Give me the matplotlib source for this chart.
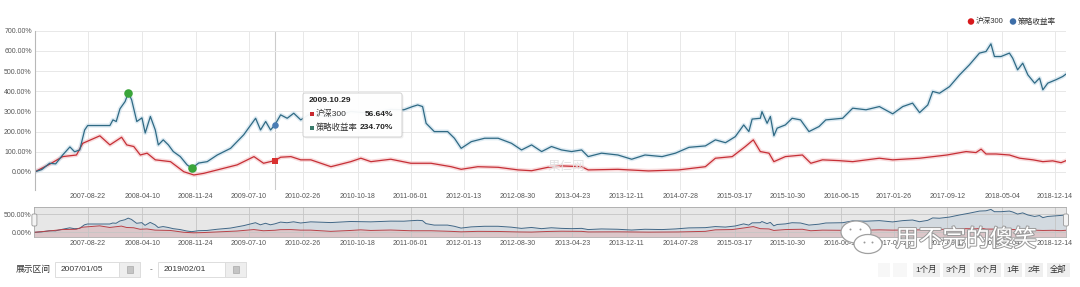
import matplotlib
matplotlib.use('Agg')
from matplotlib import pyplot as plt
from matplotlib import patches as patches
from matplotlib import patheffects as pe
import pandas as pd
import numpy as np

plt.rcParams['font.family'] = ['Liberation Sans', 'Noto Sans CJK SC']

# ---- data (cumulative return, %) ----
strategy_dates = [
    '2007-01-05', '2007-02-05', '2007-03-10', '2007-04-05', '2007-05-05', '2007-06-05',
    '2007-06-25', '2007-07-17', '2007-08-07', '2007-08-20', '2007-11-23', '2007-12-06',
    '2007-12-20', '2008-01-05', '2008-01-27', '2008-02-10', '2008-02-24', '2008-03-17',
    '2008-04-08', '2008-04-22', '2008-05-14', '2008-06-04', '2008-06-17', '2008-07-08',
    '2008-07-30', '2008-08-20', '2008-09-19', '2008-10-18', '2008-11-08', '2008-12-06',
    '2009-01-12', '2009-02-24', '2009-04-22', '2009-06-17', '2009-08-07', '2009-08-28',
    '2009-09-19', '2009-10-10', '2009-10-29', '2009-11-22', '2009-12-20', '2010-01-17',
    '2010-02-16', '2010-03-31', '2010-06-25', '2010-09-18', '2010-12-13', '2011-03-08',
    '2011-05-03', '2011-06-09', '2011-07-01', '2011-07-22', '2011-08-06', '2011-09-10',
    '2011-11-06', '2011-12-05', '2012-01-03', '2012-02-15', '2012-04-12', '2012-06-09',
    '2012-08-05', '2012-09-17', '2012-10-30', '2012-12-12', '2013-01-23', '2013-03-07',
    '2013-04-19', '2013-06-01', '2013-06-29', '2013-08-25', '2013-11-03', '2014-01-01',
    '2014-02-27', '2014-05-11', '2014-07-07', '2014-09-03', '2014-11-12', '2014-12-25',
    '2015-02-06', '2015-03-20', '2015-04-25', '2015-05-17', '2015-05-31', '2015-07-05',
    '2015-07-12', '2015-08-03', '2015-08-17', '2015-09-01', '2015-09-15', '2015-10-20',
    '2015-11-18', '2015-12-24', '2016-01-29', '2016-03-12', '2016-04-10', '2016-06-21',
    '2016-08-03', '2016-09-29', '2016-11-25', '2017-01-21', '2017-03-05', '2017-04-16',
    '2017-05-16', '2017-06-20', '2017-07-11', '2017-08-09', '2017-09-21', '2017-11-03',
    '2017-12-15', '2018-01-27', '2018-02-24', '2018-03-17', '2018-04-01', '2018-04-29',
    '2018-06-04', '2018-06-18', '2018-07-09', '2018-07-31', '2018-08-22', '2018-09-20',
    '2018-10-11', '2018-10-25', '2018-11-15', '2018-12-20', '2019-01-18', '2019-02-01']
strategy_vals = [
    0, 12, 43, 40, 84, 124,
    100, 109, 208, 230, 230, 258,
    250, 313, 349, 393, 357, 250,
    268, 193, 275, 208, 134, 159,
    134, 101, 76, 35, 18, 44,
    51, 84, 117, 184, 266, 208,
    250, 208, 234.70, 283, 266, 291,
    258, 290, 270, 300, 290, 310,
    308, 324, 332, 324, 241, 200,
    200, 167, 117, 150, 167, 167,
    142, 109, 134, 101, 126, 109,
    101, 109, 76, 93, 84, 63,
    84, 76, 93, 122, 129, 159,
    145, 175, 233, 200, 262, 266,
    299, 241, 275, 179, 217, 233,
    266, 258, 200, 225, 258, 266,
    316, 308, 324, 288, 324, 341,
    294, 332, 399, 390, 423, 481,
    531, 589, 597, 635, 572, 572,
    589, 564, 506, 539, 481, 440,
    465, 407, 440, 457, 473, 485]

hs300_dates = [
    '2007-01-05', '2007-03-10', '2007-05-05', '2007-07-03', '2007-07-30', '2007-10-11',
    '2007-11-23', '2008-01-12', '2008-02-03', '2008-03-04', '2008-04-01', '2008-04-30',
    '2008-06-04', '2008-08-08', '2008-10-04', '2008-11-16', '2008-12-28', '2009-02-24',
    '2009-05-20', '2009-07-31', '2009-09-10', '2009-10-29', '2009-11-22', '2010-01-05',
    '2010-02-16', '2010-03-31', '2010-06-25', '2010-09-18', '2010-10-31', '2010-12-13',
    '2011-03-08', '2011-06-02', '2011-08-27', '2011-11-21', '2012-01-03', '2012-03-14',
    '2012-06-09', '2012-09-03', '2012-10-30', '2013-01-08', '2013-03-07', '2013-06-01',
    '2013-06-29', '2013-11-03', '2014-03-14', '2014-07-20', '2014-11-12', '2014-12-25',
    '2015-03-07', '2015-05-02', '2015-06-05', '2015-07-05', '2015-08-11', '2015-09-01',
    '2015-10-20', '2016-01-01', '2016-02-06', '2016-03-27', '2016-06-06', '2016-08-03',
    '2016-11-25', '2017-01-21', '2017-05-16', '2017-09-10', '2017-12-01', '2018-01-12',
    '2018-02-03', '2018-02-24', '2018-04-08', '2018-06-04', '2018-07-18', '2018-09-13',
    '2018-10-25', '2018-12-06', '2019-01-11', '2019-02-01']
hs300_vals = [
    0, 38, 76, 84, 142, 179,
    134, 172, 134, 126, 84, 93,
    60, 51, 1, -15, -7, 10,
    35, 76, 43, 56.64, 73, 76,
    60, 60, 26, 51, 68, 51,
    63, 43, 43, 26, 13, 26,
    23, 10, 6, 23, 30, 26,
    10, 13, 5, 10, 26, 68,
    76, 126, 159, 101, 93, 51,
    76, 84, 43, 60, 56, 51,
    68, 60, 68, 84, 101, 96,
    113, 89, 89, 84, 68, 60,
    51, 55, 46, 56]

tick_labels = ['2007-08-22', '2008-04-10', '2008-11-24', '2009-07-10', '2010-02-26',
               '2010-10-18', '2011-06-01', '2012-01-13', '2012-08-30', '2013-04-23',
               '2013-12-11', '2014-07-28', '2015-03-17', '2015-10-30', '2016-06-15',
               '2017-01-26', '2017-09-12', '2018-05-04', '2018-12-14']
drawdown_dates = ['2008-02-10', '2008-11-08']
tooltip_date = '2009-10-29'
range_start, range_end = '2007/01/05', '2019/02/01'
buttons = ['', '', '1个月', '3个月', '6个月', '1年', '2年', '全部']

RED = '#c62f36'
BLUE = '#2f6a84'

s_dates = pd.to_datetime(strategy_dates)
h_dates = pd.to_datetime(hs300_dates)
ticks = pd.to_datetime(tick_labels)
x0 = pd.Timestamp(range_start.replace('/', '-'))
x1 = pd.Timestamp(range_end.replace('/', '-'))

W, H = 1080, 287


def box(l, t, r, b):
    return [l / W, 1 - b / H, (r - l) / W, (b - t) / H]


fig = plt.figure(figsize=(W / 100, H / 100), dpi=100)

# ---- main chart ----
ax = fig.add_axes(box(34.6, 30.7, 1066, 190.1))
ax.set_xlim(x0, x1)
ax.set_ylim(-90, 700)
ax.set_yticks(range(0, 701, 100))
ax.set_yticklabels(['%.2f%%' % v for v in range(0, 701, 100)])
ax.set_xticks(ticks)
ax.set_xticklabels(tick_labels)
ax.tick_params(length=0, labelsize=5, colors='#555555', pad=2)
ax.grid(True, color='#e8e8e8', lw=0.7)
for sp in ['top', 'right', 'bottom']:
    ax.spines[sp].set_visible(False)
ax.spines['left'].set_color('#b8b8b8')
ax.spines['left'].set_linewidth(0.8)

ax.plot(h_dates, hs300_vals, color='#f2b8bb', lw=3, alpha=0.5, solid_joinstyle='round')
ax.plot(s_dates, strategy_vals, color='#bcd6e6', lw=3, alpha=0.5, solid_joinstyle='round')
ax.plot(h_dates, hs300_vals, color=RED, lw=0.9)
ax.plot(s_dates, strategy_vals, color=BLUE, lw=0.9)

# max drawdown markers
s_series = pd.Series(strategy_vals, index=s_dates)
h_series = pd.Series(hs300_vals, index=h_dates)
dd = pd.to_datetime(drawdown_dates)
ax.scatter(dd, s_series[dd].values, s=38, color='#3aa53a', zorder=5, lw=0)

# tooltip crosshair and points
td = pd.Timestamp(tooltip_date)
ax.axvline(td, color='#cccccc', lw=0.8, zorder=1)
ax.scatter([td], [s_series[td]], s=22, color='#4a7db5', zorder=5, lw=0)
ax.scatter([td], [h_series[td]], s=20, marker='s', color='#d9302f', zorder=5, lw=0)

# ---- navigator ----
nav = fig.add_axes(box(34.4, 207.3, 1066, 237.3))
nav.set_xlim(x0, x1)
nav.set_ylim(-139, 694)
nav.set_yticks([0, 500])
nav.set_yticklabels(['0.00%', '500.00%'])
nav.set_xticks(ticks)
nav.set_xticklabels(tick_labels)
nav.tick_params(length=0, labelsize=5, colors='#555555', pad=2)
nav.grid(True, color='#d4d4d4', lw=0.6)
for sp in nav.spines.values():
    sp.set_color('#b0b0b0')
    sp.set_linewidth(0.6)
nav.fill_between(s_dates, strategy_vals, -139, color='#d6e3f1', alpha=0.6, lw=0)
nav.fill_between(h_dates, hs300_vals, -139, color='#f5d0d2', alpha=0.8, lw=0)
nav.plot(s_dates, strategy_vals, color='#2f5f86', lw=0.7)
nav.plot(h_dates, hs300_vals, color=RED, lw=0.7)
nav.add_patch(patches.Rectangle((0, 0), 1, 1, transform=nav.transAxes,
                                fc='#8a8a8a', alpha=0.2, ec='none', zorder=4))

# ---- overlay in pixel coordinates ----
ov = fig.add_axes([0, 0, 1, 1], zorder=10)
ov.set_xlim(0, W)
ov.set_ylim(H, 0)
ov.axis('off')
ov.patch.set_alpha(0)

# legend
ov.scatter([971, 1013], [21.5, 21.5], s=22, color=['#d7191c', '#3d6ea8'], lw=0)
ov.text(975.5, 21.8, '沪深300', fontsize=5.5, va='center', color='#333333')
ov.text(1017.5, 21.8, '策略收益率', fontsize=5.5, va='center', color='#333333')

# navigator handles
for hx in [34.4, 1066]:
    ov.add_patch(patches.FancyBboxPatch((hx - 2.5, 214), 5, 12,
                                        boxstyle='round,pad=0,rounding_size=1.5',
                                        fc='#f4f4f4', ec='#999999', lw=0.6))

# tooltip
ov.add_patch(patches.FancyBboxPatch((304.5, 94.5), 99, 44, boxstyle='round,pad=0,rounding_size=2',
                                    fc='#000000', alpha=0.06, ec='none'))
ov.add_patch(patches.FancyBboxPatch((303, 93), 99, 44, boxstyle='round,pad=0,rounding_size=2',
                                    fc='white', alpha=0.95, ec='#cfcfcf', lw=0.7))
ov.text(309, 101, td.strftime('%Y.%m.%d'), fontsize=6, fontweight='bold',
        va='center', color='#222222')
rows = [('沪深300', h_series[td], '#c8282e'), ('策略收益率', s_series[td], '#3a7c6c')]
for i, (name, val, c) in enumerate(rows):
    yy = 114 + i * 13.5
    ov.scatter([311.5], [yy], s=9, marker='s', color=c, lw=0)
    ov.text(316, yy, name, fontsize=6, va='center', color='#333333')
    ov.text(393, yy, '%.2f%%' % val, fontsize=6, va='center', ha='right',
            fontweight='bold', color='#222222')

# watermark
ov.text(566, 167, '果仁网', fontsize=9, color='#e2e2e2', ha='center', va='center')

# date range controls
ov.text(16, 269.5, '展示区间', fontsize=6.3, va='center', color='#333333')
for (l, r, txt) in [(55, 140, range_start), (158, 246, range_end)]:
    ov.add_patch(patches.Rectangle((l, 261.5), r - l, 15.5, fc='white', ec='#dddddd', lw=0.7))
    ov.add_patch(patches.Rectangle((r - 21, 261.5), 21, 15.5, fc='#eeeeee', ec='#dddddd', lw=0.7))
    ov.add_patch(patches.Rectangle((r - 13.5, 265.5), 6, 7, fc='#c4c4c4', ec='#aaaaaa', lw=0.5))
    ov.text(l + 6, 269.5, txt, fontsize=6, va='center', color='#333333')
ov.text(151, 269.5, '-', fontsize=6, va='center', ha='center', color='#555555')

# zoom buttons
bx = [(878, 890), (893, 907), (913, 940), (943, 970), (974, 1001), (1004, 1022), (1025, 1043), (1047, 1070)]
for (l, r), lab in zip(bx, buttons):
    fc = '#f7f7f7' if lab == '' else '#efefef'
    ov.add_patch(patches.Rectangle((l, 262.7), r - l, 14.6, fc=fc, ec='none'))
    ov.text((l + r) / 2, 270.2, lab, fontsize=6, ha='center', va='center', color='#333333')

# wechat account watermark (lies over the navigator labels, as in the screenshot)
for (cx, cy, w, h) in [(856, 232, 30, 22), (868, 244, 28, 19)]:
    ov.add_patch(patches.Ellipse((cx, cy), w, h, fc='white', ec='#a0a0a0', lw=0.9))
for (ex, ey) in [(850, 229), (860, 229), (864, 242), (872, 242)]:
    ov.scatter([ex], [ey], s=2, color='#999999', lw=0)
ov.text(966, 240, '用不完的傻笑', fontsize=17, ha='center', va='center', color='white',
        path_effects=[pe.withStroke(linewidth=1.4, foreground='#9a9a9a')])

fig.savefig('out.png', dpi=100)
